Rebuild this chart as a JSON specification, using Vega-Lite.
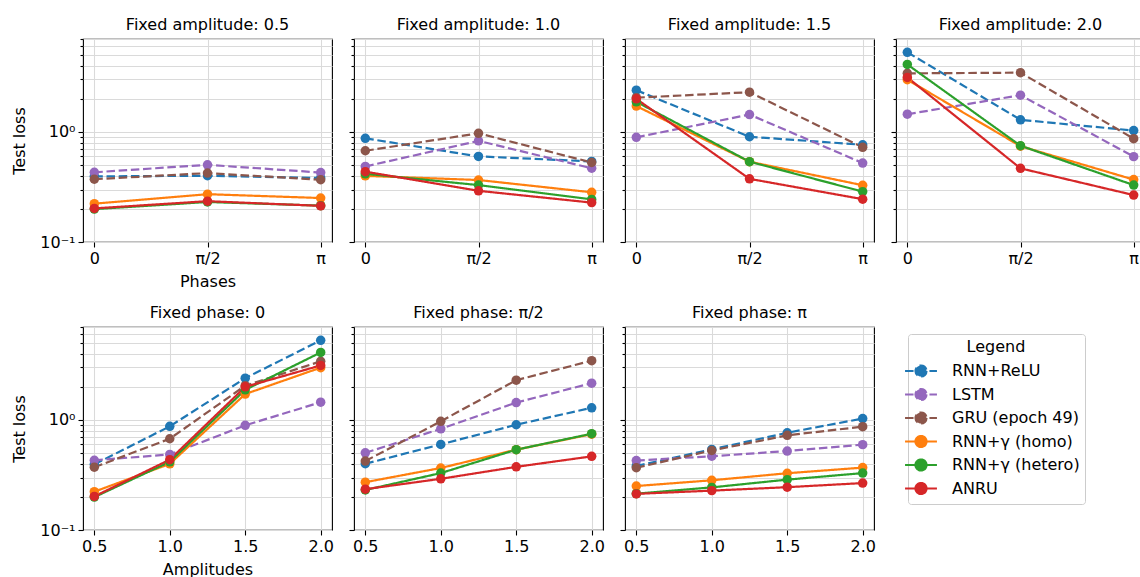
{
  "$schema": "https://vega.github.io/schema/vega-lite/v6.json",
  "background": "white",
  "padding": {"left": 11, "top": 16, "right": 0, "bottom": 0},
  "datasets": {
    "grid": [
      {"m": "RNN+ReLU", "amp": 0.5, "phase": 0, "loss": 0.395},
      {"m": "RNN+ReLU", "amp": 0.5, "phase": 1.5708, "loss": 0.40},
      {"m": "RNN+ReLU", "amp": 0.5, "phase": 3.1416, "loss": 0.382},
      {"m": "RNN+ReLU", "amp": 1.0, "phase": 0, "loss": 0.875},
      {"m": "RNN+ReLU", "amp": 1.0, "phase": 1.5708, "loss": 0.60},
      {"m": "RNN+ReLU", "amp": 1.0, "phase": 3.1416, "loss": 0.54},
      {"m": "RNN+ReLU", "amp": 1.5, "phase": 0, "loss": 2.40},
      {"m": "RNN+ReLU", "amp": 1.5, "phase": 1.5708, "loss": 0.905},
      {"m": "RNN+ReLU", "amp": 1.5, "phase": 3.1416, "loss": 0.765},
      {"m": "RNN+ReLU", "amp": 2.0, "phase": 0, "loss": 5.3},
      {"m": "RNN+ReLU", "amp": 2.0, "phase": 1.5708, "loss": 1.29},
      {"m": "RNN+ReLU", "amp": 2.0, "phase": 3.1416, "loss": 1.03},
      {"m": "LSTM", "amp": 0.5, "phase": 0, "loss": 0.43},
      {"m": "LSTM", "amp": 0.5, "phase": 1.5708, "loss": 0.503},
      {"m": "LSTM", "amp": 0.5, "phase": 3.1416, "loss": 0.428},
      {"m": "LSTM", "amp": 1.0, "phase": 0, "loss": 0.486},
      {"m": "LSTM", "amp": 1.0, "phase": 1.5708, "loss": 0.83},
      {"m": "LSTM", "amp": 1.0, "phase": 3.1416, "loss": 0.468},
      {"m": "LSTM", "amp": 1.5, "phase": 0, "loss": 0.894},
      {"m": "LSTM", "amp": 1.5, "phase": 1.5708, "loss": 1.44},
      {"m": "LSTM", "amp": 1.5, "phase": 3.1416, "loss": 0.522},
      {"m": "LSTM", "amp": 2.0, "phase": 0, "loss": 1.45},
      {"m": "LSTM", "amp": 2.0, "phase": 1.5708, "loss": 2.16},
      {"m": "LSTM", "amp": 2.0, "phase": 3.1416, "loss": 0.597},
      {"m": "GRU (epoch 49)", "amp": 0.5, "phase": 0, "loss": 0.372},
      {"m": "GRU (epoch 49)", "amp": 0.5, "phase": 1.5708, "loss": 0.423},
      {"m": "GRU (epoch 49)", "amp": 0.5, "phase": 3.1416, "loss": 0.368},
      {"m": "GRU (epoch 49)", "amp": 1.0, "phase": 0, "loss": 0.675},
      {"m": "GRU (epoch 49)", "amp": 1.0, "phase": 1.5708, "loss": 0.973},
      {"m": "GRU (epoch 49)", "amp": 1.0, "phase": 3.1416, "loss": 0.528},
      {"m": "GRU (epoch 49)", "amp": 1.5, "phase": 0, "loss": 2.05},
      {"m": "GRU (epoch 49)", "amp": 1.5, "phase": 1.5708, "loss": 2.30},
      {"m": "GRU (epoch 49)", "amp": 1.5, "phase": 3.1416, "loss": 0.725},
      {"m": "GRU (epoch 49)", "amp": 2.0, "phase": 0, "loss": 3.41},
      {"m": "GRU (epoch 49)", "amp": 2.0, "phase": 1.5708, "loss": 3.46},
      {"m": "GRU (epoch 49)", "amp": 2.0, "phase": 3.1416, "loss": 0.87},
      {"m": "RNN+γ (homo)", "amp": 0.5, "phase": 0, "loss": 0.223},
      {"m": "RNN+γ (homo)", "amp": 0.5, "phase": 1.5708, "loss": 0.272},
      {"m": "RNN+γ (homo)", "amp": 0.5, "phase": 3.1416, "loss": 0.251},
      {"m": "RNN+γ (homo)", "amp": 1.0, "phase": 0, "loss": 0.399},
      {"m": "RNN+γ (homo)", "amp": 1.0, "phase": 1.5708, "loss": 0.366},
      {"m": "RNN+γ (homo)", "amp": 1.0, "phase": 3.1416, "loss": 0.283},
      {"m": "RNN+γ (homo)", "amp": 1.5, "phase": 0, "loss": 1.72},
      {"m": "RNN+γ (homo)", "amp": 1.5, "phase": 1.5708, "loss": 0.537},
      {"m": "RNN+γ (homo)", "amp": 1.5, "phase": 3.1416, "loss": 0.328},
      {"m": "RNN+γ (homo)", "amp": 2.0, "phase": 0, "loss": 2.99},
      {"m": "RNN+γ (homo)", "amp": 2.0, "phase": 1.5708, "loss": 0.743},
      {"m": "RNN+γ (homo)", "amp": 2.0, "phase": 3.1416, "loss": 0.369},
      {"m": "RNN+γ (hetero)", "amp": 0.5, "phase": 0, "loss": 0.199},
      {"m": "RNN+γ (hetero)", "amp": 0.5, "phase": 1.5708, "loss": 0.231},
      {"m": "RNN+γ (hetero)", "amp": 0.5, "phase": 3.1416, "loss": 0.214},
      {"m": "RNN+γ (hetero)", "amp": 1.0, "phase": 0, "loss": 0.417},
      {"m": "RNN+γ (hetero)", "amp": 1.0, "phase": 1.5708, "loss": 0.329},
      {"m": "RNN+γ (hetero)", "amp": 1.0, "phase": 3.1416, "loss": 0.244},
      {"m": "RNN+γ (hetero)", "amp": 1.5, "phase": 0, "loss": 1.88},
      {"m": "RNN+γ (hetero)", "amp": 1.5, "phase": 1.5708, "loss": 0.537},
      {"m": "RNN+γ (hetero)", "amp": 1.5, "phase": 3.1416, "loss": 0.287},
      {"m": "RNN+γ (hetero)", "amp": 2.0, "phase": 0, "loss": 4.11},
      {"m": "RNN+γ (hetero)", "amp": 2.0, "phase": 1.5708, "loss": 0.75},
      {"m": "RNN+γ (hetero)", "amp": 2.0, "phase": 3.1416, "loss": 0.329},
      {"m": "ANRU", "amp": 0.5, "phase": 0, "loss": 0.202},
      {"m": "ANRU", "amp": 0.5, "phase": 1.5708, "loss": 0.235},
      {"m": "ANRU", "amp": 0.5, "phase": 3.1416, "loss": 0.213},
      {"m": "ANRU", "amp": 1.0, "phase": 0, "loss": 0.436},
      {"m": "ANRU", "amp": 1.0, "phase": 1.5708, "loss": 0.292},
      {"m": "ANRU", "amp": 1.0, "phase": 3.1416, "loss": 0.228},
      {"m": "ANRU", "amp": 1.5, "phase": 0, "loss": 2.0},
      {"m": "ANRU", "amp": 1.5, "phase": 1.5708, "loss": 0.375},
      {"m": "ANRU", "amp": 1.5, "phase": 3.1416, "loss": 0.245},
      {"m": "ANRU", "amp": 2.0, "phase": 0, "loss": 3.13},
      {"m": "ANRU", "amp": 2.0, "phase": 1.5708, "loss": 0.467},
      {"m": "ANRU", "amp": 2.0, "phase": 3.1416, "loss": 0.267}
    ]
  },
  "columns": 4,
  "spacing": {"row": 85, "column": 22},
  "bounds": "flush",
  "resolve": {"scale": {"color": "shared", "strokeDash": "shared"}, "legend": {"color": "shared", "strokeDash": "shared"}},
  "concat": [
    {
      "width": 249, "height": 203,
      "title": "Fixed amplitude: 0.5",
      "data": {"name": "grid"},
      "transform": [{"filter": {"field": "amp", "equal": 0.5}}],
      "mark": {"type": "line", "strokeWidth": 2.2, "point": {"filled": true, "size": 90, "opacity": 1}},
      "encoding": {
        "x": {"field": "phase", "type": "quantitative", "scale": {"domain": [-0.1571, 3.2987], "nice": false, "zero": false},
              "axis": {"title": "Phases", "values": [0, 1.5708, 3.1416], "labelExpr": "datum.value == 0 ? '0' : datum.value < 2 ? 'π/2' : 'π'"}},
        "y": {"field": "loss", "type": "quantitative", "scale": {"type": "log", "domain": [0.1, 7], "nice": false},
              "axis": {"title": "Test loss", "values": [0.1,0.2,0.3,0.4,0.5,0.6,0.7,0.8,0.9,1,2,3,4,5,6,7], "labelExpr": "datum.value == 0.1 ? '10⁻¹' : datum.value == 1 ? '10⁰' : ''",
                       "labelFontSize": {"condition": {"test": "datum.value == 0.1 || datum.value == 1", "value": 16}, "value": 0},
                       "tickSize": {"condition": {"test": "datum.value == 0.1 || datum.value == 1", "value": 5}, "value": 3}}},
        "color": {"field": "m", "type": "nominal", "title": "Legend",
                  "scale": {"domain": ["RNN+ReLU", "LSTM", "GRU (epoch 49)", "RNN+γ (homo)", "RNN+γ (hetero)", "ANRU"], "range": ["#1f77b4", "#9467bd", "#8c564b", "#ff7f0e", "#2ca02c", "#d62728"]},
                  "legend": {"encode": {"symbols": {"update": {"fill": {"scale": "color", "field": "value"}, "fillOpacity": {"value": 1}}}}}},
        "strokeDash": {"field": "m", "type": "nominal", "title": "Legend",
                       "scale": {"domain": ["RNN+ReLU", "LSTM", "GRU (epoch 49)", "RNN+γ (homo)", "RNN+γ (hetero)", "ANRU"], "range": [[8.5, 3.7], [8.5, 3.7], [8.5, 3.7], [1, 0], [1, 0], [1, 0]]}}
      }
    },
    {
      "width": 249, "height": 203,
      "title": "Fixed amplitude: 1.0",
      "data": {"name": "grid"},
      "transform": [{"filter": {"field": "amp", "equal": 1.0}}],
      "mark": {"type": "line", "strokeWidth": 2.2, "point": {"filled": true, "size": 90, "opacity": 1}},
      "encoding": {
        "x": {"field": "phase", "type": "quantitative", "scale": {"domain": [-0.1571, 3.2987], "nice": false, "zero": false},
              "axis": {"title": null, "values": [0, 1.5708, 3.1416], "labelExpr": "datum.value == 0 ? '0' : datum.value < 2 ? 'π/2' : 'π'"}},
        "y": {"field": "loss", "type": "quantitative", "scale": {"type": "log", "domain": [0.1, 7], "nice": false},
              "axis": {"title": null, "labels": false, "values": [0.1,0.2,0.3,0.4,0.5,0.6,0.7,0.8,0.9,1,2,3,4,5,6,7],
                       "tickSize": {"condition": {"test": "datum.value == 0.1 || datum.value == 1", "value": 5}, "value": 3}}},
        "color": {"field": "m", "type": "nominal", "title": "Legend",
                  "scale": {"domain": ["RNN+ReLU", "LSTM", "GRU (epoch 49)", "RNN+γ (homo)", "RNN+γ (hetero)", "ANRU"], "range": ["#1f77b4", "#9467bd", "#8c564b", "#ff7f0e", "#2ca02c", "#d62728"]},
                  "legend": {"encode": {"symbols": {"update": {"fill": {"scale": "color", "field": "value"}, "fillOpacity": {"value": 1}}}}}},
        "strokeDash": {"field": "m", "type": "nominal", "title": "Legend",
                       "scale": {"domain": ["RNN+ReLU", "LSTM", "GRU (epoch 49)", "RNN+γ (homo)", "RNN+γ (hetero)", "ANRU"], "range": [[8.5, 3.7], [8.5, 3.7], [8.5, 3.7], [1, 0], [1, 0], [1, 0]]}}
      }
    },
    {
      "width": 249, "height": 203,
      "title": "Fixed amplitude: 1.5",
      "data": {"name": "grid"},
      "transform": [{"filter": {"field": "amp", "equal": 1.5}}],
      "mark": {"type": "line", "strokeWidth": 2.2, "point": {"filled": true, "size": 90, "opacity": 1}},
      "encoding": {
        "x": {"field": "phase", "type": "quantitative", "scale": {"domain": [-0.1571, 3.2987], "nice": false, "zero": false},
              "axis": {"title": null, "values": [0, 1.5708, 3.1416], "labelExpr": "datum.value == 0 ? '0' : datum.value < 2 ? 'π/2' : 'π'"}},
        "y": {"field": "loss", "type": "quantitative", "scale": {"type": "log", "domain": [0.1, 7], "nice": false},
              "axis": {"title": null, "labels": false, "values": [0.1,0.2,0.3,0.4,0.5,0.6,0.7,0.8,0.9,1,2,3,4,5,6,7],
                       "tickSize": {"condition": {"test": "datum.value == 0.1 || datum.value == 1", "value": 5}, "value": 3}}},
        "color": {"field": "m", "type": "nominal", "title": "Legend",
                  "scale": {"domain": ["RNN+ReLU", "LSTM", "GRU (epoch 49)", "RNN+γ (homo)", "RNN+γ (hetero)", "ANRU"], "range": ["#1f77b4", "#9467bd", "#8c564b", "#ff7f0e", "#2ca02c", "#d62728"]},
                  "legend": {"encode": {"symbols": {"update": {"fill": {"scale": "color", "field": "value"}, "fillOpacity": {"value": 1}}}}}},
        "strokeDash": {"field": "m", "type": "nominal", "title": "Legend",
                       "scale": {"domain": ["RNN+ReLU", "LSTM", "GRU (epoch 49)", "RNN+γ (homo)", "RNN+γ (hetero)", "ANRU"], "range": [[8.5, 3.7], [8.5, 3.7], [8.5, 3.7], [1, 0], [1, 0], [1, 0]]}}
      }
    },
    {
      "width": 249, "height": 203,
      "title": "Fixed amplitude: 2.0",
      "data": {"name": "grid"},
      "transform": [{"filter": {"field": "amp", "equal": 2.0}}],
      "mark": {"type": "line", "strokeWidth": 2.2, "point": {"filled": true, "size": 90, "opacity": 1}},
      "encoding": {
        "x": {"field": "phase", "type": "quantitative", "scale": {"domain": [-0.1571, 3.2987], "nice": false, "zero": false},
              "axis": {"title": null, "values": [0, 1.5708, 3.1416], "labelExpr": "datum.value == 0 ? '0' : datum.value < 2 ? 'π/2' : 'π'"}},
        "y": {"field": "loss", "type": "quantitative", "scale": {"type": "log", "domain": [0.1, 7], "nice": false},
              "axis": {"title": null, "labels": false, "values": [0.1,0.2,0.3,0.4,0.5,0.6,0.7,0.8,0.9,1,2,3,4,5,6,7],
                       "tickSize": {"condition": {"test": "datum.value == 0.1 || datum.value == 1", "value": 5}, "value": 3}}},
        "color": {"field": "m", "type": "nominal", "title": "Legend",
                  "scale": {"domain": ["RNN+ReLU", "LSTM", "GRU (epoch 49)", "RNN+γ (homo)", "RNN+γ (hetero)", "ANRU"], "range": ["#1f77b4", "#9467bd", "#8c564b", "#ff7f0e", "#2ca02c", "#d62728"]},
                  "legend": {"encode": {"symbols": {"update": {"fill": {"scale": "color", "field": "value"}, "fillOpacity": {"value": 1}}}}}},
        "strokeDash": {"field": "m", "type": "nominal", "title": "Legend",
                       "scale": {"domain": ["RNN+ReLU", "LSTM", "GRU (epoch 49)", "RNN+γ (homo)", "RNN+γ (hetero)", "ANRU"], "range": [[8.5, 3.7], [8.5, 3.7], [8.5, 3.7], [1, 0], [1, 0], [1, 0]]}}
      }
    },
    {
      "width": 249, "height": 203,
      "title": "Fixed phase: 0",
      "data": {"name": "grid"},
      "transform": [{"filter": {"field": "phase", "equal": 0}}],
      "mark": {"type": "line", "strokeWidth": 2.2, "point": {"filled": true, "size": 90, "opacity": 1}},
      "encoding": {
        "x": {"field": "amp", "type": "quantitative", "scale": {"domain": [0.425, 2.075], "nice": false, "zero": false},
              "axis": {"title": "Amplitudes", "values": [0.5, 1, 1.5, 2], "format": ".1f"}},
        "y": {"field": "loss", "type": "quantitative", "scale": {"type": "log", "domain": [0.1, 7], "nice": false},
              "axis": {"title": "Test loss", "values": [0.1,0.2,0.3,0.4,0.5,0.6,0.7,0.8,0.9,1,2,3,4,5,6,7], "labelExpr": "datum.value == 0.1 ? '10⁻¹' : datum.value == 1 ? '10⁰' : ''",
                       "labelFontSize": {"condition": {"test": "datum.value == 0.1 || datum.value == 1", "value": 16}, "value": 0},
                       "tickSize": {"condition": {"test": "datum.value == 0.1 || datum.value == 1", "value": 5}, "value": 3}}},
        "color": {"field": "m", "type": "nominal", "title": "Legend",
                  "scale": {"domain": ["RNN+ReLU", "LSTM", "GRU (epoch 49)", "RNN+γ (homo)", "RNN+γ (hetero)", "ANRU"], "range": ["#1f77b4", "#9467bd", "#8c564b", "#ff7f0e", "#2ca02c", "#d62728"]},
                  "legend": {"encode": {"symbols": {"update": {"fill": {"scale": "color", "field": "value"}, "fillOpacity": {"value": 1}}}}}},
        "strokeDash": {"field": "m", "type": "nominal", "title": "Legend",
                       "scale": {"domain": ["RNN+ReLU", "LSTM", "GRU (epoch 49)", "RNN+γ (homo)", "RNN+γ (hetero)", "ANRU"], "range": [[8.5, 3.7], [8.5, 3.7], [8.5, 3.7], [1, 0], [1, 0], [1, 0]]}}
      }
    },
    {
      "width": 249, "height": 203,
      "title": "Fixed phase: π/2",
      "data": {"name": "grid"},
      "transform": [{"filter": {"field": "phase", "equal": 1.5708}}],
      "mark": {"type": "line", "strokeWidth": 2.2, "point": {"filled": true, "size": 90, "opacity": 1}},
      "encoding": {
        "x": {"field": "amp", "type": "quantitative", "scale": {"domain": [0.425, 2.075], "nice": false, "zero": false},
              "axis": {"title": null, "values": [0.5, 1, 1.5, 2], "format": ".1f"}},
        "y": {"field": "loss", "type": "quantitative", "scale": {"type": "log", "domain": [0.1, 7], "nice": false},
              "axis": {"title": null, "labels": false, "values": [0.1,0.2,0.3,0.4,0.5,0.6,0.7,0.8,0.9,1,2,3,4,5,6,7],
                       "tickSize": {"condition": {"test": "datum.value == 0.1 || datum.value == 1", "value": 5}, "value": 3}}},
        "color": {"field": "m", "type": "nominal", "title": "Legend",
                  "scale": {"domain": ["RNN+ReLU", "LSTM", "GRU (epoch 49)", "RNN+γ (homo)", "RNN+γ (hetero)", "ANRU"], "range": ["#1f77b4", "#9467bd", "#8c564b", "#ff7f0e", "#2ca02c", "#d62728"]},
                  "legend": {"encode": {"symbols": {"update": {"fill": {"scale": "color", "field": "value"}, "fillOpacity": {"value": 1}}}}}},
        "strokeDash": {"field": "m", "type": "nominal", "title": "Legend",
                       "scale": {"domain": ["RNN+ReLU", "LSTM", "GRU (epoch 49)", "RNN+γ (homo)", "RNN+γ (hetero)", "ANRU"], "range": [[8.5, 3.7], [8.5, 3.7], [8.5, 3.7], [1, 0], [1, 0], [1, 0]]}}
      }
    },
    {
      "width": 249, "height": 203,
      "title": "Fixed phase: π",
      "data": {"name": "grid"},
      "transform": [{"filter": {"field": "phase", "equal": 3.1416}}],
      "mark": {"type": "line", "strokeWidth": 2.2, "point": {"filled": true, "size": 90, "opacity": 1}},
      "encoding": {
        "x": {"field": "amp", "type": "quantitative", "scale": {"domain": [0.425, 2.075], "nice": false, "zero": false},
              "axis": {"title": null, "values": [0.5, 1, 1.5, 2], "format": ".1f"}},
        "y": {"field": "loss", "type": "quantitative", "scale": {"type": "log", "domain": [0.1, 7], "nice": false},
              "axis": {"title": null, "labels": false, "values": [0.1,0.2,0.3,0.4,0.5,0.6,0.7,0.8,0.9,1,2,3,4,5,6,7],
                       "tickSize": {"condition": {"test": "datum.value == 0.1 || datum.value == 1", "value": 5}, "value": 3}}},
        "color": {"field": "m", "type": "nominal", "title": "Legend",
                  "scale": {"domain": ["RNN+ReLU", "LSTM", "GRU (epoch 49)", "RNN+γ (homo)", "RNN+γ (hetero)", "ANRU"], "range": ["#1f77b4", "#9467bd", "#8c564b", "#ff7f0e", "#2ca02c", "#d62728"]},
                  "legend": {"encode": {"symbols": {"update": {"fill": {"scale": "color", "field": "value"}, "fillOpacity": {"value": 1}}}}}},
        "strokeDash": {"field": "m", "type": "nominal", "title": "Legend",
                       "scale": {"domain": ["RNN+ReLU", "LSTM", "GRU (epoch 49)", "RNN+γ (homo)", "RNN+γ (hetero)", "ANRU"], "range": [[8.5, 3.7], [8.5, 3.7], [8.5, 3.7], [1, 0], [1, 0], [1, 0]]}}
      }
    }
  ],
  "config": {
    "font": "DejaVu Sans",
    "view": {"stroke": "black", "strokeWidth": 1.1},
    "title": {"font": "DejaVu Sans", "fontSize": 16, "fontWeight": "normal", "color": "black", "offset": 5, "anchor": "middle"},
    "axis": {
      "domain": false,
      "grid": true,
      "gridColor": "#dadada",
      "gridWidth": 1.1,
      "tickColor": "black",
      "tickWidth": 1.1,
      "tickSize": 5,
      "labelFont": "DejaVu Sans",
      "labelFontSize": 16,
      "labelColor": "black",
      "labelPadding": 3,
      "labelOverlap": false,
      "labelFlush": false,
      "titleFont": "DejaVu Sans",
      "titleFontSize": 16,
      "titleFontWeight": "normal",
      "titleColor": "black"
    },
    "axisX": {"titlePadding": 7},
    "axisY": {"titlePadding": 12},
    "legend": {
      "orient": "none",
      "legendX": 825,
      "legendY": 295,
      "titleFont": "DejaVu Sans",
      "titleFontSize": 16,
      "titleFontWeight": "normal",
      "titleColor": "black",
      "titleAnchor": "middle",
      "titlePadding": 8,
      "labelFont": "DejaVu Sans",
      "labelFontSize": 16,
      "labelColor": "black",
      "labelOffset": 23,
      "strokeColor": "#cccccc",
      "fillColor": "white",
      "cornerRadius": 3,
      "padding": 5,
      "rowPadding": 3.5,
      "symbolSize": 121,
      "symbolStrokeWidth": 2.2,
      "symbolType": "M-2.9,0L2.9,0M1,0A1,1,0,1,1,-1,0A1,1,0,1,1,1,0Z"
    }
  }
}
